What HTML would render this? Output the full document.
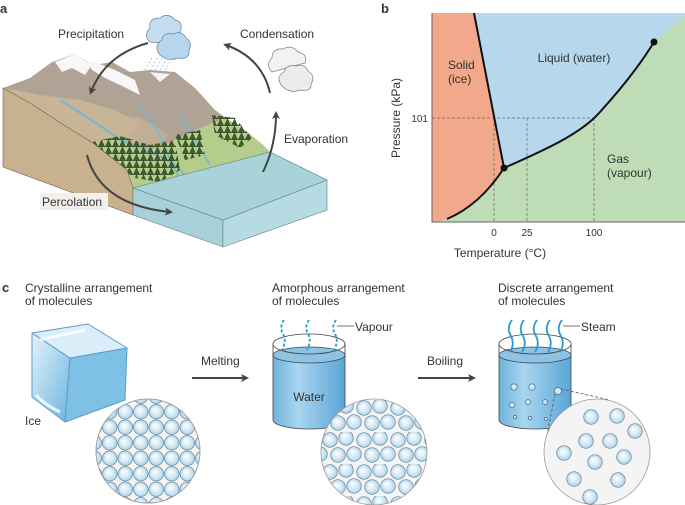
<!DOCTYPE html>
<html><head><meta charset="utf-8"><style>
html,body{margin:0;padding:0;background:#fff}
svg{display:block}
text{font-family:"Liberation Sans",sans-serif;fill:#333}
</style></head><body>
<svg width="685" height="505" viewBox="0 0 685 505" xmlns="http://www.w3.org/2000/svg">
<defs>
<radialGradient id="mol" cx="50%" cy="50%" r="50%" fx="38%" fy="35%">
<stop offset="0" stop-color="#ffffff"/><stop offset="0.6" stop-color="#d6ebf7"/><stop offset="1" stop-color="#a9d1ea"/></radialGradient>
<pattern id="grid" x="102" y="404" width="15.5" height="15.5" patternUnits="userSpaceOnUse">
<circle cx="7.75" cy="7.75" r="7.3" fill="url(#mol)" stroke="#6f8595" stroke-width="0.7"/></pattern>
<pattern id="amor" x="322" y="400" width="34" height="32" patternUnits="userSpaceOnUse">
<circle cx="8" cy="8" r="7.3" fill="url(#mol)" stroke="#6f8595" stroke-width="0.7"/>
<circle cx="24" cy="6" r="7.3" fill="url(#mol)" stroke="#6f8595" stroke-width="0.7"/>
<circle cx="16" cy="23" r="7.3" fill="url(#mol)" stroke="#6f8595" stroke-width="0.7"/>
<circle cx="32" cy="22" r="7.3" fill="url(#mol)" stroke="#6f8595" stroke-width="0.7"/>
<circle cx="-2" cy="22" r="7.3" fill="url(#mol)" stroke="#6f8595" stroke-width="0.7"/>
</pattern>
<pattern id="trees" width="7" height="7" patternUnits="userSpaceOnUse">
<polygon points="3.5,0 6.8,7 0.2,7" fill="#3f5e2c" stroke="#24381a" stroke-width="0.5"/></pattern>
<clipPath id="c1"><circle cx="148" cy="451" r="52"/></clipPath>
<clipPath id="c2"><circle cx="374" cy="452" r="53"/></clipPath>
<linearGradient id="wat" x1="0" x2="1"><stop offset="0" stop-color="#6fb3dc"/><stop offset="0.35" stop-color="#a9d5ef"/><stop offset="1" stop-color="#5aa5d6"/></linearGradient>
<linearGradient id="ice" x1="0" y1="0" x2="1" y2="1"><stop offset="0" stop-color="#e4f3fb"/><stop offset="1" stop-color="#6cb4df"/></linearGradient>
<marker id="ah" markerWidth="8" markerHeight="8" refX="5" refY="4" orient="auto" markerUnits="userSpaceOnUse"><path d="M0,0 L8,4 L0,8 L2,4 Z" fill="#444"/></marker>
</defs>

<!-- Panel a -->
<text x="0" y="13" font-size="13" font-weight="bold" fill="#222">a</text>
<path d="M3,88 L30,78 L52,62 L75,54 L88,62 L100,64 L112,62 L130,72 L150,70 L175,72 L195,88 L215,110 L240,128 L262,144 L270,152 L133,188 L127,170 L93,143 L67,127 L30,103 Z" fill="#b0a294"/>
<path d="M3,88 L40,95 L80,100 L115,110 L140,125 L120,140 L93,143 L67,127 L30,103 Z" fill="#c8b596"/>
<path d="M100,110 L140,118 L170,135 L150,150 L120,140 Z" fill="#c8b596" opacity="0.7"/>
<path d="M55,62 L75,54 L92,65 L85,75 L72,68 L62,72 Z M88,62 L100,64 L115,70 L135,80 L140,95 L120,85 L105,78 L92,70 Z M150,72 L170,74 L160,82 Z" fill="#f7f7f7"/>
<path d="M90,143 L120,138 L150,150 L175,140 L200,128 L225,118 L245,130 L262,144 L270,152 L133,188 L127,170 Z" fill="#b5cd8c"/>
<path d="M60,100 Q100,125 120,140 Q150,150 175,165 L190,180" stroke="#6fb9dc" stroke-width="2" fill="none"/>
<path d="M140,105 Q160,130 170,160 L180,180 M180,115 Q195,140 210,165" stroke="#6fb9dc" stroke-width="1.6" fill="none"/>
<path d="M92,142 L120,136 L150,145 L175,140 L180,170 L160,182 L135,178 L115,165 Z" fill="url(#trees)"/>
<path d="M175,135 L200,130 L205,155 L185,160 Z" fill="url(#trees)"/>
<path d="M212,115 L235,118 L252,138 L240,148 L215,135 Z" fill="url(#trees)"/>
<path d="M3,88 L30,103 L67,127 L93,143 L127,170 L133,188 L133,215 L3,167 Z" fill="#c8b18e" stroke="#6d5f4d" stroke-width="0.6"/>
<path d="M133,188 L223,220 L223,247 L133,215 Z" fill="#a7d0d8" stroke="#5d7f88" stroke-width="0.6"/>
<path d="M223,220 L327,180 L327,210 L223,247 Z" fill="#b6dbe2" stroke="#5d7f88" stroke-width="0.6"/>
<path d="M133,188 L270,152 L327,180 L223,220 Z" fill="#a8d3d9" stroke="#5d7f88" stroke-width="0.6"/>
<g stroke="#6a7f90" stroke-width="0.7">
<path d="M150,42 Q143,35 150,28 Q148,18 160,18 Q168,12 175,20 Q184,22 180,32 Q185,40 175,44 Z" fill="#c4def0"/>
<path d="M160,55 Q153,46 162,40 Q163,32 173,34 Q182,30 186,38 Q193,42 189,50 Q190,60 178,58 Q168,62 160,55 Z" fill="#b5d6ee"/>
<path d="M272,72 Q265,64 272,58 Q272,48 283,49 Q292,44 298,52 Q308,54 305,63 Z" fill="#f2f2f2"/>
<path d="M282,86 Q275,77 284,72 Q286,64 296,66 Q305,63 308,71 Q316,76 311,84 Q312,92 300,90 Q290,94 282,86 Z" fill="#ececec"/>
</g>
<path d="M152,58 L140,78 M157,58 L145,80 M162,58 L150,80 M167,58 L156,78 M172,58 L162,76" stroke="#9bb4c8" stroke-width="0.7" stroke-dasharray="2 2"/>
<g stroke="#444" stroke-width="2" fill="none">
<path d="M148,43 Q105,55 91,92" marker-end="url(#ah)"/>
<path d="M270,93 Q262,58 226,45" marker-end="url(#ah)"/>
<path d="M263,172 Q276,145 276,114" marker-end="url(#ah)"/>
<path d="M87,155 Q100,205 170,212" marker-end="url(#ah)"/>
</g>
<rect x="40" y="193" width="68" height="17" fill="#f3f0eb"/>
<text x="58" y="38" font-size="12">Precipitation</text>
<text x="240" y="38" font-size="12">Condensation</text>
<text x="284" y="143" font-size="12">Evaporation</text>
<text x="42" y="206" font-size="12">Percolation</text>

<!-- Panel b -->
<text x="381" y="13" font-size="13" font-weight="bold" fill="#222">b</text>
<rect x="432" y="13" width="253" height="209" fill="#bedcb6"/>
<path d="M474,13 L685,13 L685,16 L654,42 C640,65 620,90 600,112 C580,135 540,152 504,168 Z" fill="#b7d7ec"/>
<path d="M432,13 L474,13 L504,168 Q480,205 447,219 L437,222 L432,222 Z" fill="#f1a88b"/>
<g stroke="#666" stroke-width="0.7" stroke-dasharray="3 2" fill="none">
<path d="M432,118 L594,118 M494,118 L494,222 M527,118 L527,222 M594,118 L594,222"/>
</g>
<g stroke="#111" stroke-width="2" fill="none">
<path d="M474,13 L504,168"/>
<path d="M447,219 Q480,205 504,168"/>
<path d="M504,168 C540,152 580,135 600,112 C620,90 640,65 654,42"/>
</g>
<circle cx="504" cy="168" r="3.5" fill="#111"/>
<circle cx="654" cy="42" r="3.5" fill="#111"/>
<path d="M432,13 L432,222 L685,222" stroke="#666" stroke-width="1" fill="none"/>
<text x="448" y="69" font-size="12">Solid</text>
<text x="448" y="83" font-size="12">(ice)</text>
<text x="574" y="62" font-size="12" text-anchor="middle">Liquid (water)</text>
<text x="607" y="163" font-size="12">Gas</text>
<text x="607" y="177" font-size="12">(vapour)</text>
<text x="428" y="122" font-size="10" text-anchor="end">101</text>
<text x="494" y="236" font-size="10" text-anchor="middle">0</text>
<text x="527" y="236" font-size="10" text-anchor="middle">25</text>
<text x="594" y="236" font-size="10" text-anchor="middle">100</text>
<text x="500" y="257" font-size="12" text-anchor="middle">Temperature (°C)</text>
<text transform="translate(400,118) rotate(-90)" font-size="12" text-anchor="middle">Pressure (kPa)</text>

<!-- Panel c -->
<text x="2" y="292" font-size="13" font-weight="bold" fill="#222">c</text>
<text x="25" y="292" font-size="12">Crystalline arrangement</text>
<text x="25" y="305" font-size="12">of molecules</text>
<text x="272" y="292" font-size="12">Amorphous arrangement</text>
<text x="272" y="305" font-size="12">of molecules</text>
<text x="498" y="292" font-size="12">Discrete arrangement</text>
<text x="498" y="305" font-size="12">of molecules</text>

<g stroke-linejoin="round" stroke="#5a9cc6" stroke-width="1">
<path d="M32,397 L32,333 L70,358 L65,422 Z" fill="url(#ice)"/>
<path d="M70,358 L127,348 L125,400 L65,422 Z" fill="#7fc0e6"/>
<path d="M32,333 L88,324 L127,348 L70,358 Z" fill="#d9eef9"/>
</g>
<path d="M40,340 Q60,335 85,330" stroke="#fff" stroke-width="3" fill="none" opacity="0.8"/>
<path d="M36,395 Q45,405 60,412" stroke="#fff" stroke-width="3" fill="none" opacity="0.8"/>
<text x="25" y="425" font-size="12">Ice</text>
<circle cx="148" cy="451" r="52" fill="#f4f4f4" stroke="#999" stroke-width="0.8"/>
<rect x="90" y="395" width="120" height="112" fill="url(#grid)" clip-path="url(#c1)"/>
<circle cx="148" cy="451" r="52" fill="none" stroke="#999" stroke-width="0.8"/>

<text x="201" y="365" font-size="12">Melting</text>
<path d="M192,378 L246,378" stroke="#444" stroke-width="2" marker-end="url(#ah)"/>
<text x="427" y="365" font-size="12">Boiling</text>
<path d="M418,378 L473,378" stroke="#444" stroke-width="2" marker-end="url(#ah)"/>

<path d="M273,355 L273,420 A36,9 0 0 0 345,420 L345,355 Z" fill="url(#wat)"/>
<ellipse cx="309" cy="355" rx="36" ry="8" fill="#8dc3e4" stroke="#444" stroke-width="0.8"/>
<path d="M273,344 L273,420 A36,9 0 0 0 345,420 L345,344" stroke="#444" stroke-width="0.8" fill="none"/>
<ellipse cx="309" cy="344" rx="36" ry="10" fill="none" stroke="#444" stroke-width="0.8"/>
<text x="309" y="401" font-size="12" text-anchor="middle">Water</text>
<g stroke="#2a9ad0" stroke-width="1.8" fill="none" stroke-dasharray="3 2">
<path d="M284,320 Q279,327 283,334 Q287,341 282,350"/>
<path d="M309,320 Q304,327 308,334 Q312,341 307,350"/>
<path d="M336,320 Q331,327 335,334 Q339,341 334,350"/>
</g>
<path d="M337,326 L354,326" stroke="#444" stroke-width="0.8"/>
<text x="355" y="331" font-size="12">Vapour</text>
<circle cx="374" cy="452" r="53" fill="#f4f4f4"/>
<rect x="318" y="396" width="112" height="112" fill="url(#amor)" clip-path="url(#c2)"/>
<circle cx="374" cy="452" r="53" fill="none" stroke="#999" stroke-width="0.8"/>

<path d="M499,355 L499,420 A36,9 0 0 0 571,420 L571,355 Z" fill="url(#wat)"/>
<ellipse cx="535" cy="355" rx="36" ry="8" fill="#8dc3e4" stroke="#444" stroke-width="0.8"/>
<path d="M499,344 L499,420 A36,9 0 0 0 571,420 L571,344" stroke="#444" stroke-width="0.8" fill="none"/>
<ellipse cx="535" cy="344" rx="36" ry="10" fill="none" stroke="#444" stroke-width="0.8"/>
<g fill="#cfe8f6" stroke="#3d6a88" stroke-width="0.7">
<circle cx="514" cy="387" r="3.2"/><circle cx="532" cy="387" r="3.2"/>
<circle cx="512" cy="405" r="2.6"/><circle cx="528" cy="402" r="2.4"/><circle cx="545" cy="402" r="2.4"/>
<circle cx="515" cy="417" r="1.6"/><circle cx="530" cy="418" r="1.6"/><circle cx="546" cy="419" r="1.6"/>
<circle cx="558" cy="391" r="3.5"/>
</g>
<g stroke="#2a9ad0" stroke-width="1.8" fill="none">
<path d="M512,320 Q506,328 511,336 Q515,344 510,352"/>
<path d="M524,320 Q518,328 523,336 Q527,344 522,352"/>
<path d="M537,320 Q531,328 536,336 Q540,344 535,352"/>
<path d="M550,320 Q544,328 549,336 Q553,344 548,352"/>
<path d="M562,320 Q556,328 561,336 Q565,344 560,352"/>
</g>
<path d="M563,326 L580,326" stroke="#444" stroke-width="0.8"/>
<text x="581" y="331" font-size="12">Steam</text>
<path d="M561,389 L610,400 M555,394 L546,440" stroke="#555" stroke-width="0.8" stroke-dasharray="3 2"/>
<circle cx="597" cy="452" r="53" fill="#f4f4f4" stroke="#999" stroke-width="0.8"/>
<g fill="url(#mol)" stroke="#6f8595" stroke-width="0.7">
<circle cx="591" cy="417" r="7.3"/><circle cx="617" cy="416" r="7.3"/><circle cx="635" cy="431" r="7.3"/>
<circle cx="586" cy="441" r="7.3"/><circle cx="610" cy="441" r="7.3"/><circle cx="564" cy="453" r="7.3"/>
<circle cx="595" cy="462" r="7.3"/><circle cx="624" cy="457" r="7.3"/><circle cx="574" cy="479" r="7.3"/>
<circle cx="618" cy="480" r="7.3"/><circle cx="590" cy="497" r="7.3"/>
</g>
</svg>
</body></html>
